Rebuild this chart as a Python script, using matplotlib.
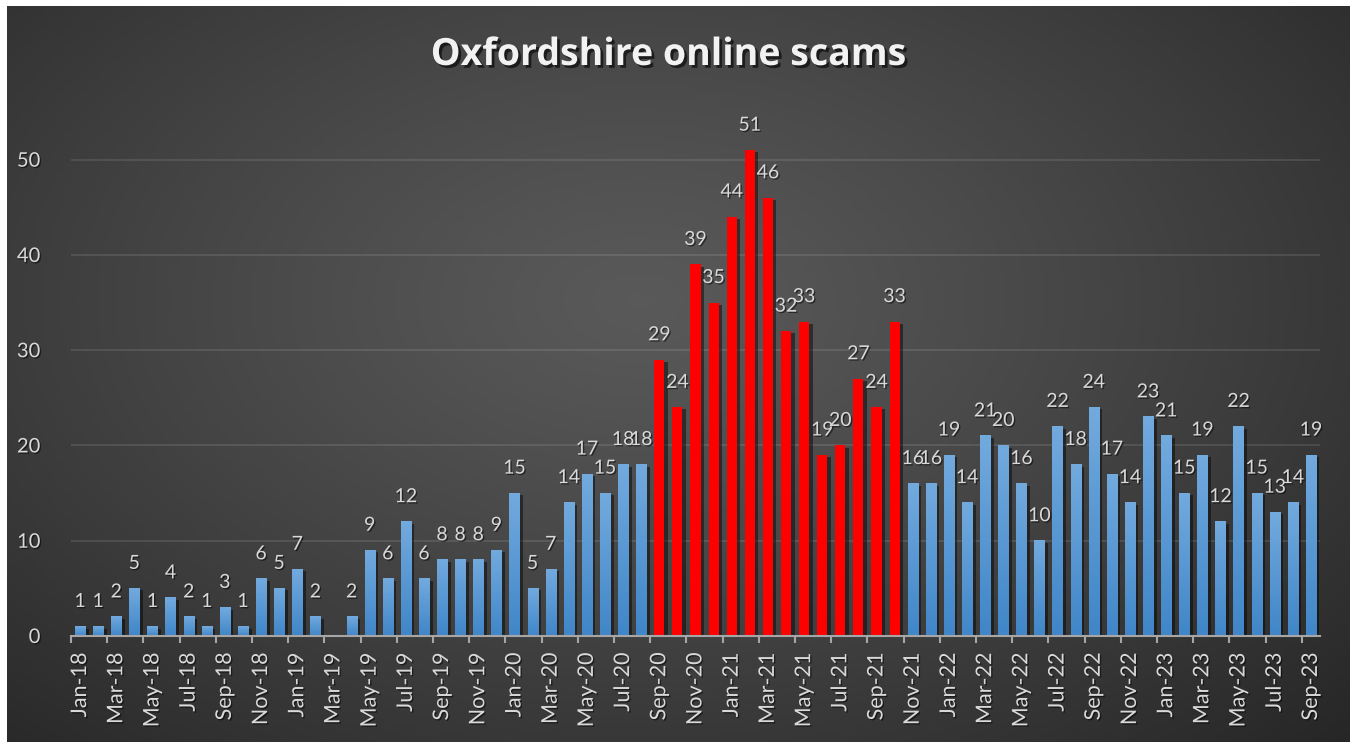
import numpy as np
import pandas as pd
import matplotlib
matplotlib.use("Agg")
from matplotlib import pyplot as plt
from matplotlib import patheffects as pe

# monthly counts, Jan-18 .. Sep-23
counts_2018 = [1, 1, 2, 5, 1, 4, 2, 1, 3, 1, 6, 5]
counts_2019 = [7, 2, 0, 2, 9, 6, 12, 6, 8, 8, 8, 9]
counts_2020 = [15, 5, 7, 14, 17, 15, 18, 18, 29, 24, 39, 35]
counts_2021 = [44, 51, 46, 32, 33, 19, 20, 27, 24, 33, 16, 16]
counts_2022 = [19, 14, 21, 20, 16, 10, 22, 18, 24, 17, 14, 23]
counts_2023 = [21, 15, 19, 12, 22, 15, 13, 14, 19]
values = counts_2018 + counts_2019 + counts_2020 + counts_2021 + counts_2022 + counts_2023

months = pd.date_range("2018-01-01", "2023-09-01", freq="MS").strftime("%b-%y").tolist()
highlight = ("Sep-20", "Oct-21")  # red stretch

title = "Oxfordshire online scams"
yticks = [0, 10, 20, 30, 40, 50]

plt.rcParams['font.family'] = ['Lato', 'DejaVu Sans']
W, H = 1357, 742
fig = plt.figure(figsize=(W / 100, H / 100), dpi=100)
fig.patch.set_facecolor("white")

# dark radial background
bg = fig.add_axes([7 / W, 0, (1350 - 7) / W, (H - 6) / H])
gx, gy = np.meshgrid(np.linspace(0, 1, 400), np.linspace(0, 1, 220))
r = np.sqrt(((gx - 0.47) / 0.75) ** 2 + ((gy - 0.40) / 0.85) ** 2)
r = np.clip(r, 0, 1)
shade = 0.35 - 0.20 * r ** 1.2
bg.imshow(np.dstack([shade] * 3), aspect="auto", extent=(0, 1, 0, 1), origin="upper")
bg.set_axis_off()
bg.set_zorder(-5)

ax = fig.add_axes([71 / W, (H - 636) / H, (1320 - 71) / W, (636 - 93) / H])
ax.set_facecolor("none")

i0 = months.index(highlight[0])
i1 = months.index(highlight[1])
is_red = [i0 <= i <= i1 for i in range(len(values))]
colors = ["#ff0000" if red else "#5b9bd5" for red in is_red]
x = np.arange(len(values))
bw = 0.56
bars = ax.bar(x, values, width=bw, color=colors, zorder=3)
shadow = [pe.SimplePatchShadow(offset=(2.5, -1.5), shadow_rgbFace="black", alpha=0.45), pe.Normal()]
for b in bars:
    b.set_path_effects(shadow)

# vertical gradient on the blue bars
top_c = np.array([114, 170, 222]) / 255
bot_c = np.array([64, 134, 200]) / 255
grad = np.linspace(0, 1, 64)[:, None, None]
grad_img = top_c * (1 - grad) + bot_c * grad
for xi, v, red in zip(x, values, is_red):
    if red or v == 0:
        continue
    ax.imshow(grad_img, extent=(xi - bw / 2, xi + bw / 2, 0, v), aspect="auto",
              origin="upper", zorder=3.5, interpolation="bilinear")

txt_shadow = [pe.SimplePatchShadow(offset=(1, -1), shadow_rgbFace="black", alpha=0.5), pe.Normal()]
for xi, v in zip(x, values):
    if v == 0:
        continue
    t = ax.annotate(str(v), (xi, v), xytext=(0, 18), textcoords="offset points",
                    ha="center", va="center", color="#d9d9d9", fontsize=14, zorder=4)
    t.set_path_effects(txt_shadow)

ax.set_xlim(-0.5, len(values) - 0.5)
ax.set_ylim(0, 57)
ax.set_yticks(yticks)
ax.yaxis.grid(True, color="#ffffff", alpha=0.12, linewidth=1.2, zorder=0)
ax.set_axisbelow(True)
ax.tick_params(axis="y", length=0, pad=22, labelsize=14.5, labelcolor="#d9d9d9")
for lab in ax.get_yticklabels():
    lab.set_path_effects(txt_shadow)

ax.set_xticks(x[::2])
ax.set_xticklabels(months[::2], rotation=90)
ax.set_xticks(np.arange(-0.5, len(values) - 1, 2), minor=True)
ax.tick_params(axis="x", which="major", length=0, pad=12, labelsize=15.5, labelcolor="#d9d9d9")
ax.tick_params(axis="x", which="minor", length=5, width=1.5, color="#a6a6a6")
for lab in ax.get_xticklabels():
    lab.set_path_effects(txt_shadow)

for s in ("top", "right", "left"):
    ax.spines[s].set_visible(False)
ax.spines["bottom"].set_color("#a6a6a6")
ax.spines["bottom"].set_linewidth(1.5)
ax.spines["bottom"].set_zorder(5)

t = fig.text(668 / W, 1 - 55 / H, title, ha="center", va="center", color="#f2f2f2",
             fontsize=27, fontweight="bold", family=["Open Sans", "DejaVu Sans"])
t.set_path_effects([pe.SimplePatchShadow(offset=(2, -2), shadow_rgbFace="black", alpha=0.6), pe.Normal()])

fig.savefig("out.png", dpi=100, facecolor=fig.get_facecolor())
